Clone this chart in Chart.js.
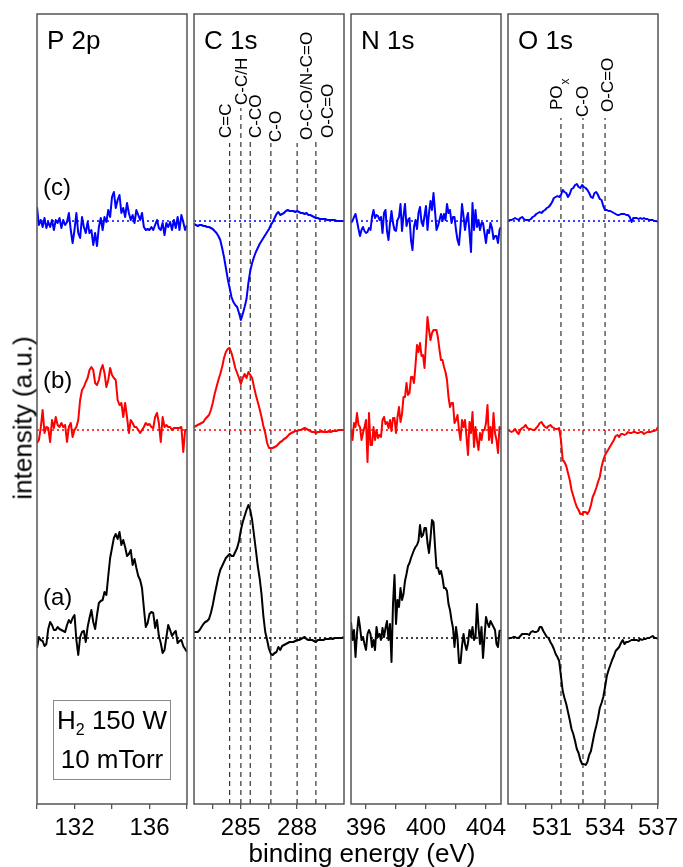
<!DOCTYPE html>
<html>
<head>
<meta charset="utf-8">
<title>XPS difference spectra</title>
<script src="https://cdn.jsdelivr.net/npm/chart.js@4.4.0/dist/chart.umd.min.js"></script>
<style>
  body { margin: 0; width: 683px; height: 867px; position: relative; overflow: hidden; background: #fff;
         font-family: "Liberation Sans", Arial, sans-serif; }
  canvas.panel { position: absolute; top: 10px; }
  #y-title { position: absolute; left: 23px; top: 418px; font-size: 26px; white-space: nowrap;
             transform: translate(-50%, -50%) rotate(-90deg); }
  #x-title { position: absolute; left: 362px; top: 840px; font-size: 26px; line-height: 26px; white-space: nowrap;
             transform: translateX(-50%); }
  #cond-box { position: absolute; left: 53px; top: 700px; width: 116px; height: 78px; border: 1px solid #888;
              font-size: 26px; line-height: 39px; text-align: center; }
  #cond-box sub { font-size: 16px; vertical-align: -6px; line-height: 0; }
</style>
</head>
<body>
<canvas id="p2p" class="panel" width="210" height="840"></canvas>
<canvas id="c1s" class="panel" width="210" height="840"></canvas>
<canvas id="n1s" class="panel" width="210" height="840"></canvas>
<canvas id="o1s" class="panel" width="210" height="840"></canvas>
<div id="y-title">intensity (a.u.)</div>
<div id="x-title">binding energy (eV)</div>
<div id="cond-box">H<sub>2</sub> 150 W<br>10 mTorr</div>
<script>
// ================= DATA =================
// energy grids (eV), 0.1 eV steps
function grid(start, n) {
  return Array.from({ length: n }, (_, i) => +(start + i * 0.1).toFixed(2));
}
const p2pEnergy = grid(130, 81);
const c1sEnergy = grid(282.5, 81);
const n1sEnergy = grid(395, 101);
const o1sEnergy = grid(528.5, 86);

// difference spectra, relative to each trace's own zero line
const p2pA = [-10,1,-2,-3,-8,-6,9,16,13,8, 8,11,9,8,7,6,13,18,15,20, 23,-2,-17,1,6,7,-4,11,20,28,
  16,9,23,35,37,38,46,43,62,80, 90,100,104,99,106,93,98,91,82,84, 88,73,79,70,62,58,50,30,11,15,
  24,26,25,10,18,2,-5,-15,-12,1, 13,8,2,5,7,-5,-3,-2,-8,-11, -14];
const p2pB = [-13,-10,2,20,-3,3,2,-12,10,2, 13,5,3,7,3,5,-12,3,7,-7, 0,3,10,30,40,43,48,52,60,63,
  60,47,45,50,60,65,57,43,50,62, 55,52,50,30,25,27,13,27,13,-3, 10,7,3,3,0,-3,0,3,7,5,
  6,3,2,13,17,7,-12,13,3,5, 3,3,0,2,2,2,2,3,-22,0, 0];
const p2pC = [14,-4,1,-6,3,-7,-1,-6,1,-9, 1,-2,3,-7,1,-4,-1,8,-9,-22, -9,8,-12,-17,4,-6,-12,-1,-12,-9,
  -24,-12,-25,-6,3,-9,4,-1,11,4, 24,29,13,21,26,8,13,4,18,8, 1,6,-2,11,6,1,8,-6,-9,-8,
  -9,-6,-9,-4,1,-7,-9,-2,-14,-2, -6,-1,-9,1,-7,4,-9,6,-1,-9, -4];

const c1sA = [6,6,6,8,11,14,16,17,19,25, 33,43,52,61,68,72,76,80,82,84, 82,82,86,90,97,108,116,122,128,133,
  128,118,103,88,72,60,44,22,6,-2, -11,-16,-17,-15,-14,-9,-12,-8,-7,-6, -5,-4,-4,-4,-3,-2,-2,-1,0,1,
  -1,-2,-2,-2,-3,-4,-2,-2,-2,-2, -1,-1,-1,0,-1,0,0,0,0,0, 1];
const c1sB = [3,4,5,6,7,8,11,13,15,20, 27,36,43,50,56,63,72,78,81,82, 77,70,62,57,52,46,52,56,52,58,
  55,52,43,35,28,21,13,4,-3,-13, -18,-18,-18,-17,-16,-14,-12,-11,-9,-8, -6,-4,-3,-2,-1,-1,0,0,1,2,
  1,0,-1,-2,-2,-3,-2,-2,-1,-2, -2,-2,-1,-2,-1,-1,-1,0,0,0, 0];
const c1sC = [-3,-4,-5,-4,-4,-5,-5,-6,-6,-7, -8,-10,-12,-15,-19,-27,-36,-47,-58,-67, -76,-81,-84,-86,-92,-99,-93,-86,-78,-62,
  -50,-42,-36,-31,-27,-23,-20,-17,-14,-11, -8,-4,-1,3,7,9,6,7,8,10, 11,10,10,10,9,10,9,8,8,7,
  8,6,6,5,4,3,3,2,2,2, 2,1,1,1,1,1,0,0,0,0, 0];

const n1sA = [16,-2,8,-19,5,21,11,-2,1,-6, -12,4,8,4,-9,-2,-12,11,1,4, -2,10,1,10,17,-2,14,-24,34,63,
  14,38,31,50,38,44,57,64,72,75, 80,84,88,91,93,97,113,101,103,110, 110,95,85,100,118,116,92,70,70,64,
  67,60,50,50,47,34,28,18,10,-9, 11,0,-25,-25,-8,4,-6,-12,-5,8, 1,11,-2,1,34,11,-6,11,-20,1,
  21,15,11,17,14,11,8,-6,-9,7, 8];
const n1sB = [0,-10,7,3,17,5,3,-10,-3,3, 10,-32,17,-15,-15,3,-10,0,-8,-5, -7,10,13,6,8,2,10,-1,12,12,
  -3,13,23,8,16,33,33,47,35,37, 53,53,47,65,85,78,87,74,75,62, 87,113,100,90,97,100,100,100,92,80,
  70,70,63,58,50,33,23,27,27,7, 10,15,0,-10,10,3,10,-7,-25,8, -3,18,-17,3,-10,-20,-3,-10,0,0,
  7,25,-10,3,-13,17,-3,-10,-23,3, 0];
const n1sC = [-2,0,4,7,0,-8,-15,-9,-6,-10, -12,-11,-7,-9,4,11,3,6,5,1, 4,-12,8,11,-10,-19,-2,10,-2,-9,
  -10,1,4,17,-10,5,17,-5,1,3, -19,-29,-6,1,-8,8,14,-1,-5,5, 15,-9,8,20,11,28,10,-9,-5,1,
  7,0,7,1,17,8,11,-2,4,4, -9,-19,-24,-6,17,5,-9,2,8,-12, -31,18,-9,11,-6,1,-9,-2,-2,-12,
  -22,-9,-12,-2,-7,-18,-15,-15,-22,-9, -6];

const o1sA = [-1,0,0,1,1,0,0,2,4,4, 4,4,3,6,7,6,6,7,11,11, 7,4,1,0,-4,-7,-11,-16,-19,-23,
  -38,-53,-60,-66,-74,-82,-91,-96,-103,-111, -115,-122,-126,-126,-127,-124,-117,-113,-104,-95,
  -88,-80,-70,-65,-59,-49,-38,-32,-27,-22, -18,-13,-11,-9,-5,-2,-6,-4,-4,-3, -2,-2,-2,-2,-3,-1,-2,-1,-1,0,
  0,1,2,0,0,-1];
const o1sB = [0,-1,-2,-1,1,-2,-4,0,2,3, 5,2,1,1,0,0,2,4,7,8, 5,3,2,4,5,3,2,1,1,2,
  -10,-30,-32,-36,-43,-50,-60,-66,-72,-77, -80,-84,-84,-82,-82,-84,-81,-75,-67,-63,
  -58,-52,-47,-37,-30,-25,-22,-19,-16,-13, -10,-6,-5,-7,-4,-4,-5,-4,-2,-3, -3,-2,-2,-3,-3,-2,-2,-4,-3,-2,
  -2,-2,-1,-1,0,3];
const o1sC = [0,1,1,2,3,2,1,3,4,2, 1,1,1,2,4,5,7,8,9,8, 10,11,13,14,16,19,23,24,25,24,
  26,31,29,28,24,27,32,33,36,37, 34,33,36,34,33,31,28,24,23,28, 29,26,22,21,15,11,11,10,10,9,
  8,7,6,6,7,7,7,6,6,4, -1,3,3,3,2,3,2,3,2,2, 1,1,1,0,0,-1];

// axis ticks and which of them carry a label
const p2pTicks = [130, 132, 134, 136, 138],          p2pTickLabels = [132, 136];
const c1sTicks = [283.5, 285, 286.5, 288, 289.5],     c1sTickLabels = [285, 288];
const n1sTicks = [396, 398, 400, 402, 404],          n1sTickLabels = [396, 400, 404];
const o1sTicks = [529.5, 531, 532.5, 534, 535.5, 537], o1sTickLabels = [531, 534, 537];

// reference binding energies
const c1sMarkerEnergy = [284.4, 285.0, 285.5, 286.6, 288.0, 289.0];
const c1sMarkerLabels = ["C=C", "C-C/H", "C-CO", "C-O", "O-C-O/N-C=O", "O-C=O"];
const o1sMarkerEnergy = [531.5, 532.75, 534.0];
const o1sMarkerLabels = ["PO_x", "C-O", "O-C=O"];

const traceNames = ["(a)", "(b)", "(c)"];

// ================= LAYOUT / STYLE =================
const FONT = "'Liberation Sans', Arial, sans-serif";
const Y_MAX = 790;                      // plot height in y units
const traceOffsets = [166, 374, 583];   // vertical stacking of (a), (b), (c)
const traceColors = ["#000000", "#ff0000", "#0000ff"];
const tagBaselines = [591, 374, 181];   // from plot top
const frameColor = "#555";

const panelLeft = { p2p: 37, c1s: 194, n1s: 351, o1s: 508 };

const pts = (xs, ys, off) => xs.map((x, i) => ({ x: x, y: ys[i] + off }));

const panelDecor = {
  id: "panelDecor",
  afterDraw(chart, args, opts) {
    const { ctx, chartArea: a, scales } = chart;
    ctx.save();
    ctx.strokeStyle = frameColor;
    ctx.lineWidth = 1.5;
    ctx.strokeRect(a.left, a.top, a.right - a.left, a.bottom - a.top);

    ctx.fillStyle = "#000";
    ctx.textBaseline = "alphabetic";
    ctx.textAlign = "left";
    ctx.font = "26px " + FONT;
    ctx.fillText(opts.title, a.left + 10, a.top + 35);

    if (opts.tags) {
      ctx.font = "24px " + FONT;
      traceNames.forEach((t, i) => ctx.fillText(t, a.left + 6, a.top + tagBaselines[i]));
    }

    (opts.markers || []).forEach((m, i) => {
      const x = scales.x.getPixelForValue(m.e) + m.dx;
      ctx.save();
      ctx.translate(x, a.top + m.bottom);
      ctx.rotate(-Math.PI / 2);
      ctx.textBaseline = "middle";
      ctx.font = "17px " + FONT;
      const parts = m.label.split("_");
      ctx.fillText(parts[0], 0, 0);
      if (parts[1]) {
        const w = ctx.measureText(parts[0]).width;
        ctx.font = "12px " + FONT;
        ctx.fillText(parts[1], w + 1, 9);
      }
      ctx.restore();
    });
    ctx.restore();
  }
};

function makePanel(id, energy, series, ticks, tickLabels, title, extra) {
  extra = extra || {};
  const xmin = energy[0], xmax = energy[energy.length - 1];
  const canvas = document.getElementById(id);
  canvas.style.left = (panelLeft[id] - 30) + "px";

  const datasets = [];
  series.forEach((s, i) => {
    datasets.push({
      data: pts(energy, s, traceOffsets[i]),
      borderColor: traceColors[i], borderWidth: 2, pointRadius: 0, tension: 0,
      borderJoinStyle: "round"
    });
  });
  series.forEach((s, i) => {
    datasets.push({
      data: [{ x: xmin, y: traceOffsets[i] }, { x: xmax, y: traceOffsets[i] }],
      borderColor: traceColors[i], borderWidth: 1.3, borderDash: [2, 3], pointRadius: 0
    });
  });
  (extra.markers || []).forEach(m => {
    datasets.push({
      data: [{ x: m.e, y: 0 }, { x: m.e, y: Y_MAX - m.top }],
      borderColor: "#333", borderWidth: 1.2, borderDash: [5, 4], pointRadius: 0
    });
  });

  return new Chart(canvas, {
    type: "line",
    data: { datasets: datasets },
    plugins: [panelDecor],
    options: {
      responsive: false,
      animation: false,
      devicePixelRatio: 1,
      layout: { padding: { left: 30, right: 30, top: 4, bottom: 0 } },
      scales: {
        x: {
          type: "linear", min: xmin, max: xmax,
          afterBuildTicks: axis => { axis.ticks = ticks.map(v => ({ value: v })); },
          afterFit: axis => { axis.height = 46; axis.paddingLeft = 0; axis.paddingRight = 0; },
          grid: { display: true, drawOnChartArea: false, drawTicks: true, tickLength: 5, color: frameColor, lineWidth: 1.3 },
          border: { display: false },
          ticks: {
            autoSkip: false, maxRotation: 0, padding: 5, color: "#000",
            font: { family: FONT, size: 24 },
            callback: v => tickLabels.includes(v) ? String(v) : ""
          }
        },
        y: { display: false, min: 0, max: Y_MAX }
      },
      plugins: {
        legend: { display: false },
        tooltip: { enabled: false },
        panelDecor: { title: title, tags: extra.tags, markers: extra.markers }
      }
    }
  });
}

// marker line tops and label placement (px from plot top)
const c1sMarkers = c1sMarkerEnergy.map((e, i) => ({
  e: e, label: c1sMarkerLabels[i],
  top: [129, 94, 128, 129, 129, 128][i],
  bottom: [124, 91, 124, 128, 126, 124][i],
  dx: [-3, 1, 6, 5, 10, 12][i]
}));
const o1sMarkers = o1sMarkerEnergy.map((e, i) => ({
  e: e, label: o1sMarkerLabels[i],
  top: 104,
  bottom: [96, 103, 98][i],
  dx: [-4, 0, 3][i]
}));

makePanel("p2p", p2pEnergy, [p2pA, p2pB, p2pC], p2pTicks, p2pTickLabels, "P 2p", { tags: true });
makePanel("c1s", c1sEnergy, [c1sA, c1sB, c1sC], c1sTicks, c1sTickLabels, "C 1s", { markers: c1sMarkers });
makePanel("n1s", n1sEnergy, [n1sA, n1sB, n1sC], n1sTicks, n1sTickLabels, "N 1s");
makePanel("o1s", o1sEnergy, [o1sA, o1sB, o1sC], o1sTicks, o1sTickLabels, "O 1s", { markers: o1sMarkers });
</script>
</body>
</html>
